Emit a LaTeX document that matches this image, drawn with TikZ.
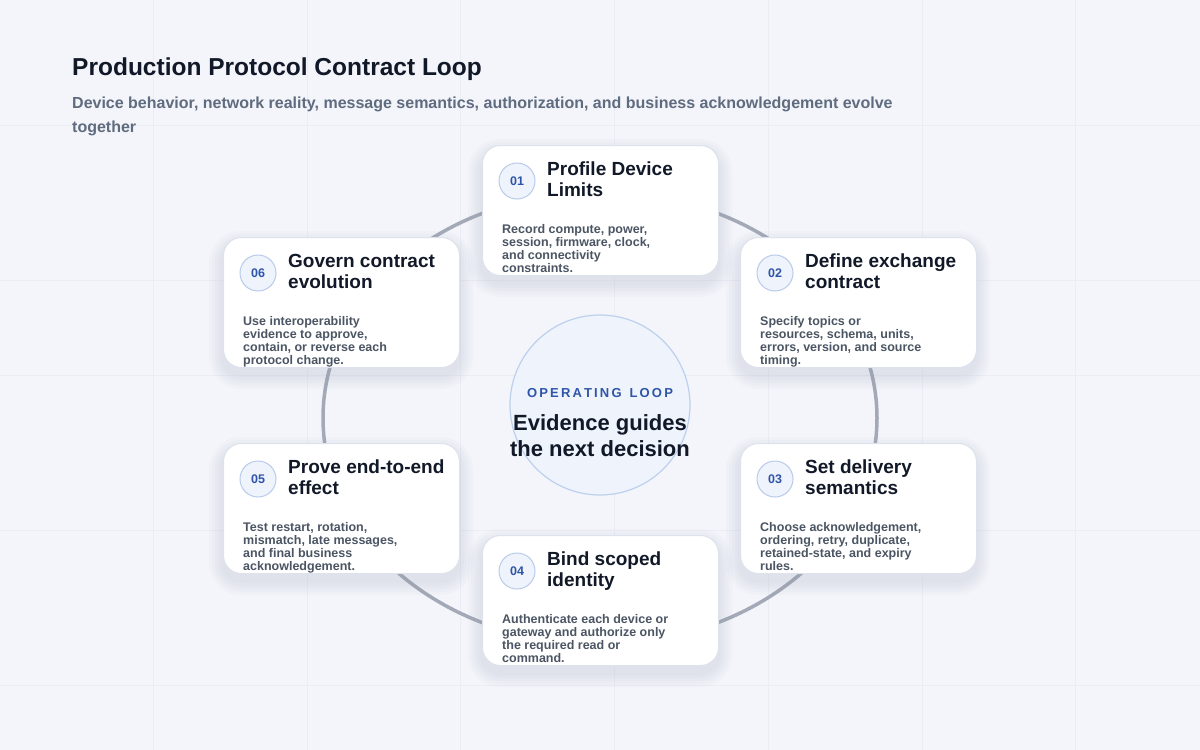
\documentclass[tikz,border=0pt]{standalone}
\usepackage{fontspec}
\setmainfont{Liberation Sans}
\definecolor{bg}{HTML}{F3F5FA}
\definecolor{gridc}{HTML}{EAEDF4}
\definecolor{ttl}{HTML}{111827}
\definecolor{sub}{HTML}{5F6B7E}
\definecolor{body}{HTML}{4B5563}
\definecolor{ring}{HTML}{A3A9B6}
\definecolor{cardb}{HTML}{DDE2EC}
\definecolor{numc}{HTML}{2F55A8}
\definecolor{numf}{HTML}{EEF3FC}
\definecolor{numb}{HTML}{B9CBEA}
\definecolor{hubf}{HTML}{EEF3FC}
\definecolor{hubb}{HTML}{BDD0EE}
\definecolor{shad}{HTML}{8A93A8}
\tikzset{
  card/.style={draw=cardb,line width=1pt,fill=white,rounded corners=18pt,minimum width=236pt,minimum height=130pt,inner sep=0pt},
  num/.style={circle,draw=numb,line width=1pt,fill=numf,minimum size=36pt,inner sep=0pt,text=numc,font=\fontsize{12.5}{14}\selectfont\bfseries},
  ctitle/.style={anchor=north west,align=left,text=ttl,font=\fontsize{19}{21}\selectfont\bfseries,inner sep=0pt},
  cbody/.style={anchor=north west,align=left,text=body,font=\fontsize{12.5}{13}\selectfont\bfseries,inner sep=0pt},
}
\newcommand{\mycard}[6]{%
  \foreach \s in {14,11,8,5,2} {
    \fill[shad,opacity=0.035,rounded corners=18pt+\s pt] (#2-\s,#3-\s+8) rectangle (#2+236+\s,#3+130+\s+8);
  }
  \node[card,anchor=north west] (#1) at (#2,#3) {};
  \node[num] (#1n) at ([xshift=35pt,yshift=-36pt]#1.north west) {#4};
  \node[ctitle] (#1t) at ([xshift=65pt,yshift=-17pt]#1.north west) {#5};
  \node[cbody] (#1b) at ([xshift=20pt,yshift=-79pt]#1.north west) {#6};
}
\begin{document}
\begin{tikzpicture}[x=1pt,y=-1pt]
\fill[bg] (0,0) rectangle (1200,750);
\useasboundingbox (0,0) rectangle (1200,750);
\foreach \x in {153,307,460,614,768,922,1075} \draw[gridc,line width=0.8pt] (\x,0) -- (\x,750);
\foreach \y in {125,280,375,530,685} \draw[gridc,line width=0.8pt] (0,\y) -- (1200,\y);
\node[anchor=west,text=ttl,font=\fontsize{24.5}{28}\selectfont\bfseries,inner sep=0pt] (title) at (72,69) {Production Protocol Contract Loop};
\node[anchor=north west,align=left,text=sub,font=\fontsize{16}{24}\selectfont\bfseries,inner sep=0pt] (subt) at (72,97) {Device behavior, network reality, message semantics, authorization, and business acknowledgement evolve\\together};
\coordinate (c) at (600,418);
\draw[ring,line width=3.5pt] (c) ellipse [x radius=277pt,y radius=226pt];
\node[circle,draw=hubb,line width=1.2pt,fill=hubf,minimum size=180pt,inner sep=0pt] (hub) at (600,405) {};
\node[text=numc,font=\fontsize{13}{15}\selectfont\bfseries,inner sep=0pt] (hubl) at (600,393) {O\,P\,E\,R\,A\,T\,I\,N\,G\,\, L\,O\,O\,P};
\node[align=center,text=ttl,font=\fontsize{22}{26}\selectfont\bfseries,inner sep=0pt] (hubt) at (600,436) {Evidence guides\\the next decision};
\mycard{c1}{482}{145}{01}{Profile Device\\Limits}{Record compute, power,\\session, firmware, clock,\\and connectivity\\constraints.}
\mycard{c2}{740}{237}{02}{Define exchange\\contract}{Specify topics or\\resources, schema, units,\\errors, version, and source\\timing.}
\mycard{c3}{740}{443}{03}{Set delivery\\semantics}{Choose acknowledgement,\\ordering, retry, duplicate,\\retained-state, and expiry\\rules.}
\mycard{c4}{482}{535}{04}{Bind scoped\\identity}{Authenticate each device or\\gateway and authorize only\\the required read or\\command.}
\mycard{c5}{223}{443}{05}{Prove end-to-end\\effect}{Test restart, rotation,\\mismatch, late messages,\\and final business\\acknowledgement.}
\mycard{c6}{223}{237}{06}{Govern contract\\evolution}{Use interoperability\\evidence to approve,\\contain, or reverse each\\protocol change.}
\end{tikzpicture}
\end{document}
